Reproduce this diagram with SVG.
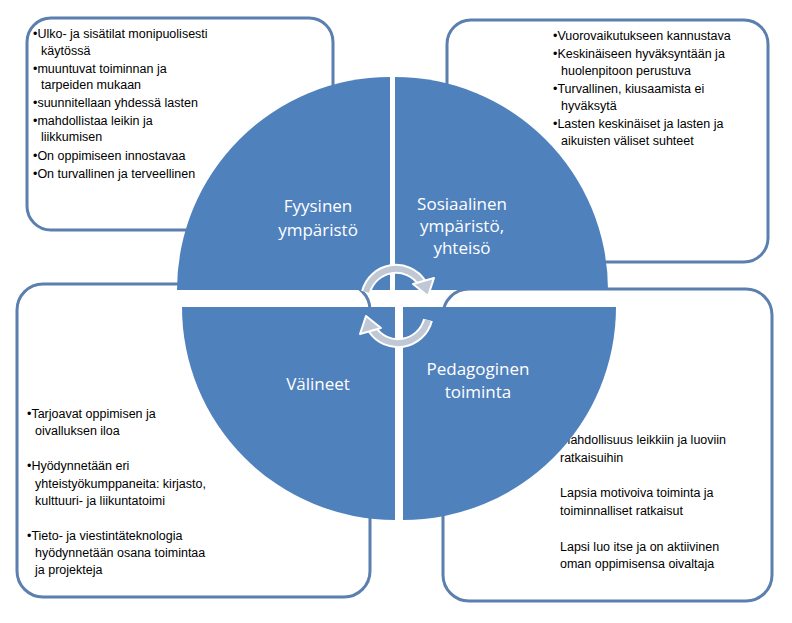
<svg xmlns="http://www.w3.org/2000/svg" width="792" height="623" viewBox="0 0 792 623">
<style>
.box{fill:#fff;stroke:#5b7fae;stroke-width:3}
.q{fill:#4f81bd}
.t{font-family:"Liberation Sans",Arial,sans-serif;font-size:12.5px;fill:#000}
.l{font-family:"Open Sans","Liberation Sans",sans-serif;font-size:17px;fill:#fff;text-anchor:middle}
</style>
<rect width="792" height="623" fill="#fff"/>
<g id="box-tl"><rect class="box" x="27" y="18" width="306" height="212" rx="24"/>
<text class="t" x="33" y="38">•Ulko- ja sisätilat monipuolisesti</text>
<text class="t" x="41" y="55">käytössä</text>
<text class="t" x="33" y="73">•muuntuvat toiminnan ja</text>
<text class="t" x="41" y="89">tarpeiden mukaan</text>
<text class="t" x="33" y="107">•suunnitellaan yhdessä lasten</text>
<text class="t" x="33" y="125">•mahdollistaa leikin ja</text>
<text class="t" x="41" y="141">liikkumisen</text>
<text class="t" x="33" y="160">•On oppimiseen innostavaa</text>
<text class="t" x="33" y="178">•On turvallinen ja terveellinen</text></g>
<g id="box-tr"><rect class="box" x="447" y="20" width="321" height="242" rx="24"/>
<text class="t" x="553" y="40">•Vuorovaikutukseen kannustava</text>
<text class="t" x="553" y="58">•Keskinäiseen hyväksyntään ja</text>
<text class="t" x="561" y="75">huolenpitoon perustuva</text>
<text class="t" x="553" y="93">•Turvallinen, kiusaamista ei</text>
<text class="t" x="561" y="110">hyväksytä</text>
<text class="t" x="553" y="128">•Lasten keskinäiset ja lasten ja</text>
<text class="t" x="561" y="145">aikuisten väliset suhteet</text></g>
<g id="box-bl"><rect class="box" x="17" y="284" width="353" height="313" rx="26"/>
<text class="t" x="27" y="418">•Tarjoavat oppimisen ja</text>
<text class="t" x="35" y="435">oivalluksen iloa</text>
<text class="t" x="27" y="470">•Hyödynnetään eri</text>
<text class="t" x="35" y="488">yhteistyökumppaneita: kirjasto,</text>
<text class="t" x="35" y="505">kulttuuri- ja liikuntatoimi</text>
<text class="t" x="27" y="540">•Tieto- ja viestintäteknologia</text>
<text class="t" x="35" y="557">hyödynnetään osana toimintaa</text>
<text class="t" x="35" y="574">ja projekteja</text></g>
<g id="box-br"><rect class="box" x="443" y="289" width="329" height="312" rx="26"/>
<text class="t" x="560" y="444">Mahdollisuus leikkiin ja luoviin</text>
<text class="t" x="560" y="462">ratkaisuihin</text>
<text class="t" x="560" y="497">Lapsia motivoiva toiminta ja</text>
<text class="t" x="560" y="515">toiminnalliset ratkaisut</text>
<text class="t" x="560" y="551">Lapsi luo itse ja on aktiivinen</text>
<text class="t" x="560" y="568">oman oppimisensa oivaltaja</text></g>
<g id="q-tl"><path class="q" d="M390 290 L177 290 A213 213 0 0 1 390 77 Z"/>
<text class="l" x="318" y="212">Fyysinen</text><text class="l" x="318" y="236">ympäristö</text></g>
<g id="q-tr"><path class="q" d="M395 290 L395 77 A213 213 0 0 1 608 290 Z"/>
<text class="l" x="462" y="210">Sosiaalinen</text><text class="l" x="462" y="232">ympäristö,</text><text class="l" x="462" y="254">yhteisö</text></g>
<g id="q-bl"><path class="q" d="M395 307 L395 520 A213 213 0 0 1 182 307 Z"/>
<text class="l" x="318" y="390">Välineet</text></g>
<g id="q-br"><path class="q" d="M403 307 L616 307 A213 213 0 0 1 403 520 Z"/>
<text class="l" x="478" y="375">Pedagoginen</text><text class="l" x="478" y="398">toiminta</text></g>
<g id="connectors" fill="none" stroke-linejoin="round">
<path d="M366 292 A31 31 0 0 1 422 283" stroke="#fff" stroke-width="10"/>
<path d="M366 292 A31 31 0 0 1 422 283" stroke="#c0c8d6" stroke-width="6"/>
<polygon points="413,284 434,278 428,296" fill="#c0c8d6" stroke="#fff" stroke-width="2"/>
<path d="M428 320 A31 31 0 0 1 372 329" stroke="#fff" stroke-width="10"/>
<path d="M428 320 A31 31 0 0 1 372 329" stroke="#c0c8d6" stroke-width="6"/>
<polygon points="381,328 360,334 366,316" fill="#c0c8d6" stroke="#fff" stroke-width="2"/>
</g>
</svg>
